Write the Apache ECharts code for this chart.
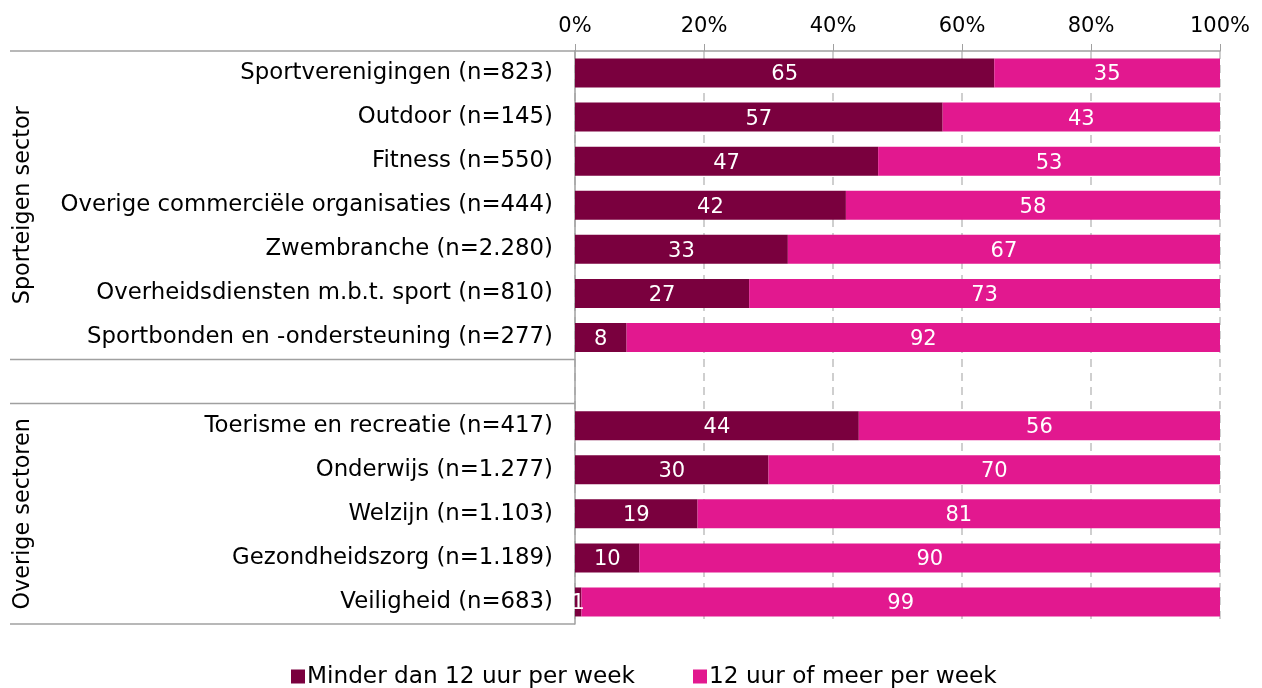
<!DOCTYPE html>
<html>
<head>
<meta charset="utf-8" />
<title>Uren per week</title>
<style type="text/css">
  html, body {height:100%; margin:0; padding:0; background:#fff;}
  #main {width:1262px; height:688px;}
</style>
<script type="text/javascript" src="https://cdn.jsdelivr.net/npm/echarts@6/dist/echarts.min.js"></script>
</head>
<body>
<div id="main"></div>
<script type="text/javascript">
// categories, top to bottom ('' = gap between groups)
var categories = [
  'Sportverenigingen (n=823)',
  'Outdoor (n=145)',
  'Fitness (n=550)',
  'Overige commerciële organisaties (n=444)',
  'Zwembranche (n=2.280)',
  'Overheidsdiensten m.b.t. sport (n=810)',
  'Sportbonden en -ondersteuning (n=277)',
  '',
  'Toerisme en recreatie (n=417)',
  'Onderwijs (n=1.277)',
  'Welzijn (n=1.103)',
  'Gezondheidszorg (n=1.189)',
  'Veiligheid (n=683)'
];
var minder = [65, 57, 47, 42, 33, 27, 8, '-', 44, 30, 19, 10, 1];
var meer   = [35, 43, 53, 58, 67, 73, 92, '-', 56, 70, 81, 90, 99];
var seriesNames = ['Minder dan 12 uur per week', '12 uur of meer per week'];
// groups: [label, first index, last index]
var groups = [
  ['Sporteigen sector', 0, 6],
  ['Overige sectoren', 8, 12]
];

var FONT = '"DejaVu Sans", sans-serif';
var myChart = echarts.init(document.getElementById('main'));

var labelStyle = {
  show: true,
  position: 'inside',
  offset: [0, 2],
  color: '#fff',
  fontSize: 21,
  fontFamily: FONT
};

myChart.setOption({
  animation: false,
  textStyle: {fontFamily: FONT},
  grid: {left: 575, right: 42, top: 51, bottom: 64},
  legend: {
    top: 660,
    left: 286,
    icon: 'rect',
    itemWidth: 14,
    itemHeight: 14,
    itemGap: 58,
    data: seriesNames,
    textStyle: {fontSize: 23.2, color: '#000', fontFamily: FONT, padding: [0, 0, 0, -3]}
  },
  xAxis: {
    type: 'value',
    position: 'top',
    min: 0,
    max: 100,
    interval: 20,
    axisLine: {show: true, lineStyle: {color: '#a0a0a0', width: 1.5}},
    axisTick: {show: true, length: 7, lineStyle: {color: '#a0a0a0'}},
    axisLabel: {formatter: '{value}%', fontSize: 21, color: '#000', margin: 14, fontFamily: FONT},
    splitLine: {show: true, lineStyle: {color: '#c0c0c0', type: [8, 6], width: 1.5}}
  },
  yAxis: {
    type: 'category',
    inverse: true,
    data: categories,
    axisLine: {show: true, lineStyle: {color: '#a0a0a0', width: 1.5}},
    axisTick: {show: false},
    axisLabel: {fontSize: 22.8, color: '#000', margin: 22, padding: [5, 0, 0, 0], fontFamily: FONT}
  },
  series: [{
    name: seriesNames[0],
    type: 'bar',
    stack: 'total',
    barWidth: 29,
    data: minder,
    itemStyle: {color: '#7a003e'},
    label: labelStyle
  }, {
    name: seriesNames[1],
    type: 'bar',
    stack: 'total',
    barWidth: 29,
    data: meer,
    itemStyle: {color: '#e2188f'},
    label: labelStyle
  }]
});

// group separators and rotated group labels, placed from the category axis
function yOf(i) { return myChart.convertToPixel({yAxisIndex: 0}, i); }
var half = (yOf(1) - yOf(0)) / 2;
var x0 = 10, x1 = 575;
var elems = [];
var bounds = [yOf(0) - half, yOf(6) + half, yOf(8) - half, yOf(12) + half];
bounds.forEach(function (y) {
  elems.push({
    type: 'line',
    shape: {x1: x0, y1: y, x2: x1, y2: y},
    style: {stroke: '#a0a0a0', lineWidth: 1.5}
  });
});
groups.forEach(function (g) {
  var yc = (yOf(g[1]) - half + yOf(g[2]) + half) / 2;
  elems.push({
    type: 'text',
    x: 23,
    y: yc,
    rotation: Math.PI / 2,
    style: {
      text: g[0],
      fontSize: 22.3,
      fontFamily: FONT,
      fill: '#000',
      align: 'center',
      verticalAlign: 'middle'
    }
  });
});
myChart.setOption({graphic: elems});
</script>
</body>
</html>
